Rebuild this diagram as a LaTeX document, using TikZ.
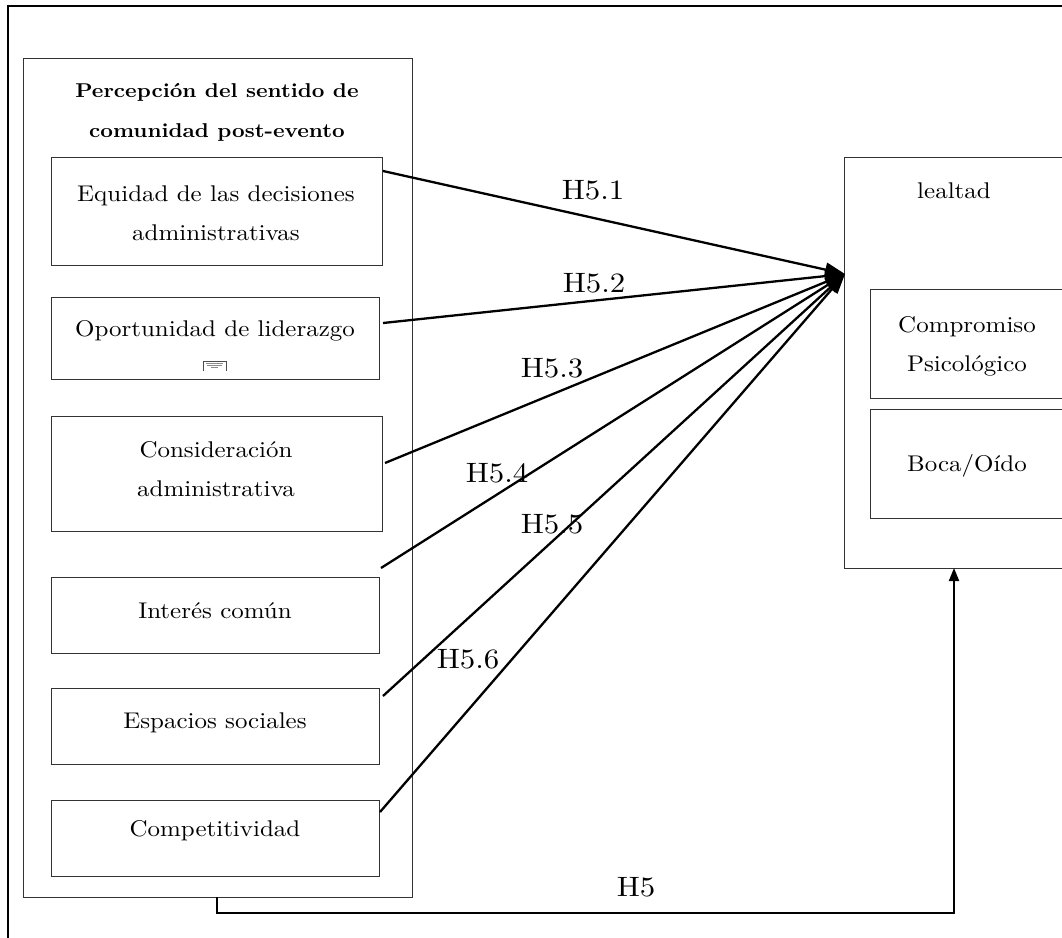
\documentclass[tikz,border=0pt]{standalone}
\usepackage{fontspec}
\setmainfont{lmroman10-regular.otf}[BoldFont=lmroman10-bold.otf, FakeStretch=1.1]
\usetikzlibrary{arrows.meta}
\begin{document}
\begin{tikzpicture}[x=1pt,y=-1pt,
  frame/.style={line width=2pt},
  box/.style={draw=black!80, line width=0.9pt, rectangle, inner sep=0pt, anchor=north west},
  txt/.style={font=\fontsize{22.7}{39}\selectfont, align=center, inner sep=0pt},
  ttl/.style={font=\bfseries\fontsize{20}{40}\selectfont, align=center, inner sep=0pt},
  hyp/.style={font=\fontsize{28}{30}\selectfont, inner sep=0pt},
  link/.style={line width=2.3pt, -{Triangle[length=20pt,width=14pt]}},
  total/.style={line width=2pt, -{Triangle[length=13pt,width=10pt]}},
]
\clip (0,0) rectangle (1062,937);
\fill[white] (0,0) rectangle (1062,937);

% outer frame (open towards the right and the bottom)
\draw[frame] (1080,6) -- (8,6) -- (8,960);

% left construct: perceived sense of community
\node[box, minimum width=389, minimum height=839] (panel) at (23,58) {};
\node[ttl] (title) at (217,112) {Percepción del sentido de\\comunidad post-evento};

\node[box, minimum width=331, minimum height=108] (eq) at (51,157) {};
\node[txt] (eqt) at (216,213) {Equidad de las decisiones\\administrativas};

\node[box, minimum width=328, minimum height=82] (op) at (51,297) {};
\node[txt] (opt) at (215,331) {Oportunidad de liderazgo};
% tiny embedded object under the text
\draw[black!70, line width=0.5pt] (203,371) -- (203,361) -- (226,361) -- (226,371);
\draw[black!45, line width=0.4pt] (206,363.5) -- (223,363.5) (207,365.5) -- (222,365.5) (211,367.5) -- (218,367.5);

\node[box, minimum width=331, minimum height=115] (con) at (51,416) {};
\node[txt] (cont) at (216,469) {Consideración\\administrativa};

\node[box, minimum width=328, minimum height=76] (int) at (51,577) {};
\node[txt] (intt) at (215,611) {Interés común};

\node[box, minimum width=328, minimum height=76] (esp) at (51,688) {};
\node[txt] (espt) at (215,723) {Espacios sociales};

\node[box, minimum width=328, minimum height=76] (comp) at (51,800) {};
\node[txt] (compt) at (215,831) {Competitividad};

% right construct: loyalty
\node[box, minimum width=240, minimum height=411] (leal) at (844,157) {};
\node[txt] (lealt) at (954,191) {lealtad};
\node[box, minimum width=210, minimum height=109] (cp) at (870,289) {};
\node[txt] (cpt) at (967,346) {Compromiso\\Psicológico};
\node[box, minimum width=210, minimum height=109] (boca) at (870,409) {};
\node[txt] (bocat) at (967,466) {Boca/Oído};

% connector end points
\coordinate (s1) at (383,171);
\coordinate (s2) at (383,323);
\coordinate (s3) at (385,463);
\coordinate (s4) at (381,568);
\coordinate (s5) at (383,696);
\coordinate (s6) at (380,812);
\coordinate (tgt) at (845,274);
\coordinate (h5s) at (217,897);
\coordinate (h5e) at (954,568);

\draw[link] (s1) -- (tgt);
\draw[link] (s2) -- (tgt);
\draw[link] (s3) -- (tgt);
\draw[link] (s4) -- (tgt);
\draw[link] (s5) -- (tgt);
\draw[link] (s6) -- (tgt);
\draw[total] (h5s) -- ++(0,16) -| (h5e);

% hypothesis labels
\node[hyp] (l1) at (593,190) {H5.1};
\node[hyp] (l2) at (594,283) {H5.2};
\node[hyp] (l3) at (552,368) {H5.3};
\node[hyp] (l4) at (497,473) {H5.4};
\node[hyp] (l5) at (552,524) {H5.5};
\node[hyp] (l6) at (468,659) {H5.6};
\node[hyp] (l7) at (636,887) {H5};
\end{tikzpicture}
\end{document}
